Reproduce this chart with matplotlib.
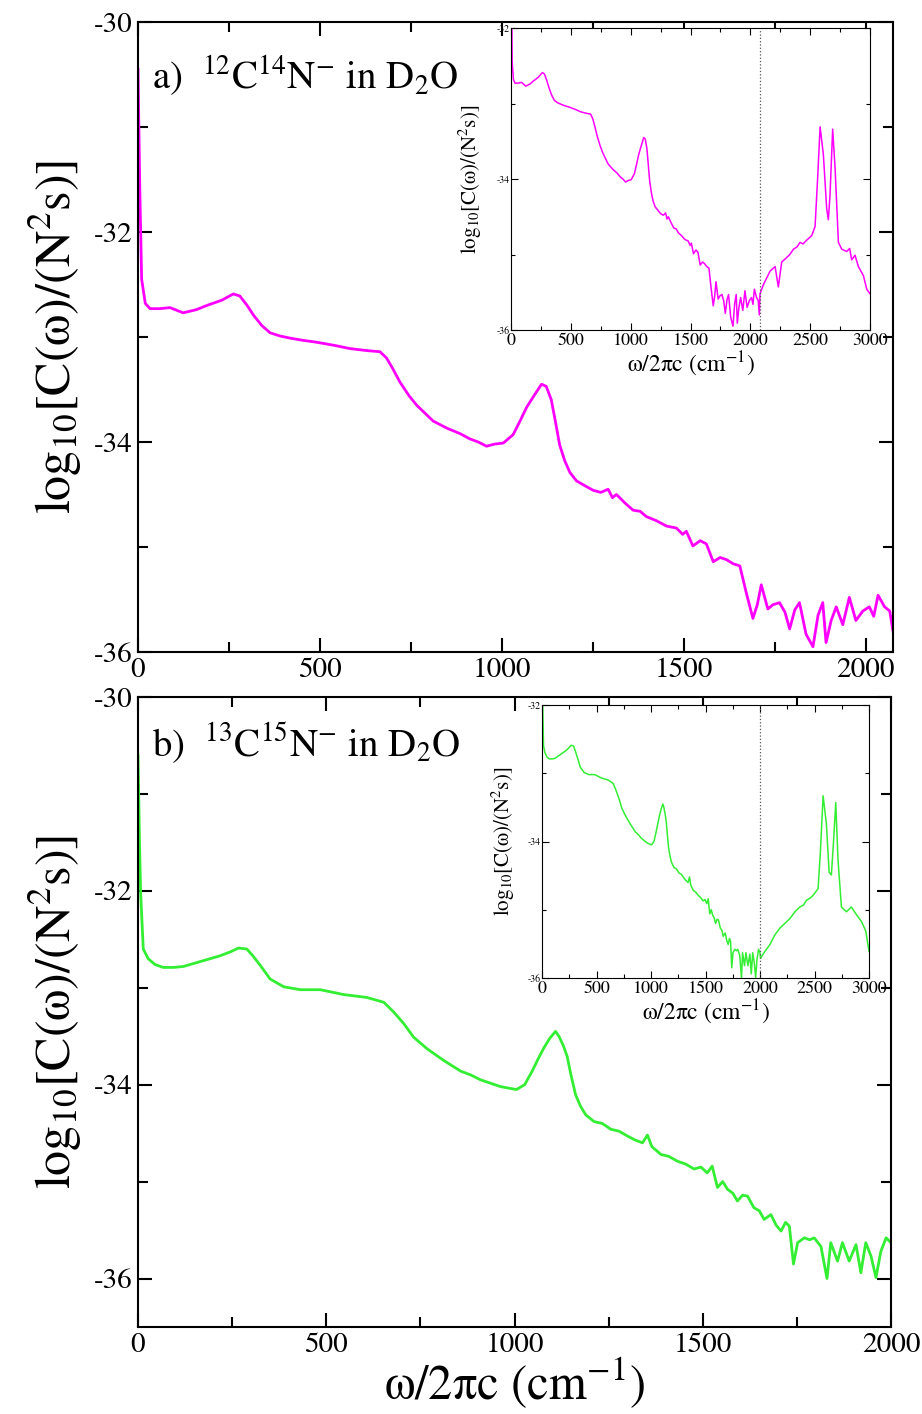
import numpy as np
import matplotlib
matplotlib.use("Agg")
import matplotlib.pyplot as plt
from matplotlib.ticker import MultipleLocator

plt.rcParams['font.family'] = ['STIXGeneral', 'DejaVu Serif']
plt.rcParams['mathtext.fontset'] = 'stix'
plt.rcParams['mathtext.default'] = 'regular'
plt.rcParams['axes.unicode_minus'] = False

# ---------- panel a) 12C14N- in D2O (main range) ----------
freq_a = [0, 5, 10, 20, 33, 60, 88, 124, 160, 189, 230, 262, 280, 300, 317, 340, 363, 390,
          417, 450, 491, 540, 582, 630, 665, 683, 700, 720, 745, 766, 790, 811, 850, 885,
          912, 935, 958, 980, 1004, 1031, 1050, 1068, 1090, 1109, 1122, 1136, 1148, 1159,
          1173, 1187, 1205, 1230, 1251, 1272, 1292, 1304, 1315, 1338, 1361, 1380, 1397,
          1425, 1452, 1480, 1497, 1507, 1525, 1545, 1562, 1581, 1600, 1617, 1636, 1654,
          1672, 1690, 1702, 1713, 1731, 1745, 1763, 1778, 1791, 1805, 1818, 1836, 1855,
          1869, 1882, 1891, 1905, 1919, 1937, 1955, 1973, 1992, 2010, 2022, 2034, 2052,
          2066, 2075]
logc_a = [-30.45, -31.6, -32.45, -32.68, -32.73, -32.73, -32.72, -32.77, -32.74, -32.70,
          -32.65, -32.59, -32.61, -32.70, -32.79, -32.89, -32.96, -32.99, -33.01, -33.03,
          -33.05, -33.08, -33.11, -33.13, -33.14, -33.20, -33.30, -33.43, -33.56, -33.65,
          -33.73, -33.80, -33.87, -33.92, -33.97, -34.00, -34.04, -34.02, -34.01, -33.93,
          -33.80, -33.67, -33.55, -33.45, -33.47, -33.60, -33.82, -34.03, -34.18, -34.29,
          -34.37, -34.42, -34.46, -34.48, -34.45, -34.53, -34.50, -34.58, -34.65, -34.66,
          -34.71, -34.75, -34.80, -34.82, -34.88, -34.85, -34.99, -34.94, -34.97, -35.14,
          -35.10, -35.12, -35.16, -35.18, -35.44, -35.68, -35.55, -35.36, -35.59, -35.55,
          -35.53, -35.62, -35.78, -35.60, -35.53, -35.83, -35.95, -35.65, -35.53, -35.91,
          -35.70, -35.57, -35.74, -35.48, -35.70, -35.61, -35.57, -35.66, -35.46, -35.57,
          -35.61, -35.80]
# extension shown only in the inset
freq_a_ext = [2081, 2109, 2140, 2165, 2207, 2234, 2262, 2304, 2330, 2360, 2390, 2415, 2440,
              2471, 2513, 2541, 2563, 2583, 2610, 2638, 2652, 2666, 2688, 2708, 2736, 2764,
              2805, 2830, 2847, 2875, 2903, 2945, 2973, 3000]
logc_a_ext = [-35.52, -35.40, -35.30, -35.22, -35.16, -35.43, -35.10, -35.04, -35.00, -34.93,
              -34.90, -34.84, -34.86, -34.81, -34.75, -34.63, -33.97, -33.31, -33.67, -34.39,
              -34.54, -34.21, -33.34, -33.85, -34.84, -34.93, -34.96, -34.92, -35.07, -35.01,
              -35.16, -35.28, -35.46, -35.52]
omega_cn_a = 2080

# ---------- panel b) 13C15N- in D2O ----------
freq_b = [0, 4, 7, 14, 27, 45, 67, 95, 121, 165, 218, 245, 267, 289, 305, 325, 351, 387,
          431, 484, 546, 608, 653, 679, 706, 732, 768, 812, 857, 884, 910, 963, 1005, 1027,
          1047, 1062, 1078, 1094, 1109, 1118, 1130, 1140, 1150, 1162, 1175, 1189, 1211,
          1233, 1256, 1278, 1300, 1320, 1340, 1353, 1365, 1389, 1410, 1433, 1455, 1477,
          1495, 1512, 1525, 1539, 1553, 1566, 1580, 1592, 1606, 1619, 1636, 1650, 1663,
          1681, 1695, 1708, 1720, 1730, 1741, 1752, 1770, 1784, 1796, 1814, 1830, 1840,
          1858, 1871, 1889, 1907, 1920, 1933, 1947, 1960, 1973, 1987, 2000]
logc_b = [-30.6, -31.5, -32.02, -32.60, -32.70, -32.76, -32.79, -32.79, -32.78, -32.73,
          -32.67, -32.63, -32.59, -32.60, -32.67, -32.77, -32.91, -32.99, -33.02, -33.02,
          -33.07, -33.10, -33.15, -33.25, -33.37, -33.51, -33.63, -33.75, -33.86, -33.90,
          -33.95, -34.02, -34.05, -34.00, -33.86, -33.74, -33.62, -33.52, -33.45, -33.50,
          -33.60, -33.71, -33.90, -34.10, -34.22, -34.31, -34.38, -34.40, -34.46, -34.48,
          -34.53, -34.57, -34.60, -34.52, -34.64, -34.72, -34.74, -34.79, -34.82, -34.87,
          -34.85, -34.91, -34.84, -35.06, -35.00, -35.08, -35.12, -35.20, -35.14, -35.15,
          -35.27, -35.30, -35.39, -35.34, -35.45, -35.51, -35.42, -35.46, -35.85, -35.63,
          -35.58, -35.60, -35.58, -35.67, -36.00, -35.63, -35.82, -35.63, -35.82, -35.65,
          -35.94, -35.63, -35.77, -35.99, -35.72, -35.58, -35.63]
freq_b_ext = [2005, 2045, 2091, 2136, 2182, 2228, 2274, 2320, 2365, 2400, 2426, 2460, 2487,
              2533, 2554, 2579, 2609, 2634, 2655, 2677, 2695, 2716, 2747, 2793, 2838, 2884,
              2930, 2970, 3000]
logc_b_ext = [-35.71, -35.61, -35.51, -35.37, -35.27, -35.20, -35.13, -35.03, -34.96, -34.93,
              -34.86, -34.83, -34.79, -34.69, -34.15, -33.33, -33.74, -34.45, -34.49, -33.94,
              -33.43, -34.28, -34.96, -35.03, -34.96, -35.07, -35.17, -35.31, -35.61]
omega_cn_b = 2003

W, H = 922, 1414
fig = plt.figure(figsize=(W / 100, H / 100), dpi=100)


def box(l, t, r, b):
    # pixel box -> figure fraction
    return [l / W, 1 - b / H, (r - l) / W, (b - t) / H]


def style(ax, size, lw, big, small, pad):
    ax.tick_params(which='both', direction='in', top=True, right=True, width=lw)
    ax.tick_params(which='major', length=big, labelsize=size, pad=pad)
    ax.tick_params(which='minor', length=small)
    for s in ax.spines.values():
        s.set_linewidth(lw)


ylab = r'log$_{10}$[C($\omega$)/(N$^2$s)]'
xlab = r'$\omega$/2$\pi$c (cm$^{-1}$)'

panels = [
    (box(138, 22, 893, 652), box(511, 28, 870, 330), 2075, (-36, -30), '#ff00ff',
     freq_a, logc_a, freq_a_ext, logc_a_ext, omega_cn_a,
     r'a)  $^{12}$C$^{14}$N$^{-}$ in D$_2$O', 0.892),
    (box(138, 697, 891, 1327), box(542, 705, 869, 978), 2000, (-36.5, -30), '#33ee33',
     freq_b, logc_b, freq_b_ext, logc_b_ext, omega_cn_b,
     r'b)  $^{13}$C$^{15}$N$^{-}$ in D$_2$O', 0.905),
]

for k, (mbox, ibox, xmax, ylim, col, fx, fy, ex, ey, wcn, tag, ty) in enumerate(panels):
    ax = fig.add_axes(mbox)
    ax.plot(fx, fy, color=col, lw=2.0)
    ax.set_xlim(0, xmax)
    ax.set_ylim(*ylim)
    ax.set_xticks([0, 500, 1000, 1500, 2000])
    ax.xaxis.set_minor_locator(MultipleLocator(250))
    ax.set_yticks([-30, -32, -34, -36])
    ax.yaxis.set_minor_locator(MultipleLocator(1))
    style(ax, 21, 1.5, 10, 7, 4)
    ax.set_ylabel(ylab, fontsize=36)
    ax.yaxis.set_label_coords(-0.072, 0.5)
    ax.text(0.019, ty, tag, transform=ax.transAxes, fontsize=28, va='baseline')
    if k == 1:
        ax.set_xlabel(xlab, fontsize=35, labelpad=-2)

    ins = fig.add_axes(ibox)
    ins.plot(list(fx) + list(ex), list(fy) + list(ey), color=col, lw=1.1)
    ins.axvline(wcn, color='#555555', lw=0.9, ls=':')
    ins.set_xlim(0, 3000)
    ins.set_ylim(-36, -32)
    ins.set_xticks(np.arange(0, 3001, 500))
    ins.xaxis.set_minor_locator(MultipleLocator(250))
    ins.set_yticks([-32, -34, -36])
    ins.yaxis.set_minor_locator(MultipleLocator(1))
    style(ins, 13, 0.8, 5, 3, 2)
    ins.tick_params(axis='y', labelsize=7, pad=1)
    ins.set_ylabel(ylab, fontsize=15)
    ins.yaxis.set_label_coords(-0.075, 0.5)
    ins.set_xlabel(xlab, fontsize=17, labelpad=0)

fig.savefig('out.png', dpi=100)
